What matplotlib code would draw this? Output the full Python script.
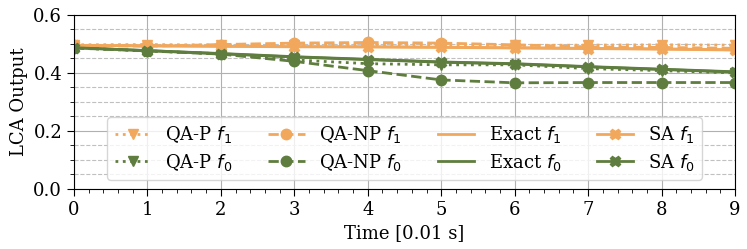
import matplotlib

matplotlib.use("Agg")
import matplotlib.pyplot as plt
from matplotlib.ticker import MultipleLocator

plt.rcParams["font.family"] = "DejaVu Serif"
plt.rcParams["mathtext.fontset"] = "dejavusans"
plt.rcParams["font.size"] = 13

time = list(range(10))

qa_p_f1 = [0.497, 0.498, 0.496, 0.497, 0.497, 0.497, 0.495, 0.496, 0.497, 0.496]
qa_p_f0 = [0.486, 0.476, 0.466, 0.445, 0.432, 0.428, 0.428, 0.415, 0.408, 0.400]
qa_np_f1 = [0.495, 0.492, 0.498, 0.503, 0.505, 0.503, 0.497, 0.490, 0.488, 0.485]
qa_np_f0 = [0.486, 0.476, 0.465, 0.440, 0.408, 0.376, 0.366, 0.367, 0.367, 0.367]
exact_f1 = [0.495, 0.494, 0.492, 0.491, 0.490, 0.489, 0.487, 0.485, 0.483, 0.480]
exact_f0 = [0.487, 0.477, 0.467, 0.456, 0.447, 0.438, 0.432, 0.422, 0.413, 0.404]
sa_f1 = [0.495, 0.493, 0.492, 0.490, 0.490, 0.488, 0.486, 0.484, 0.482, 0.479]
sa_f0 = [0.487, 0.477, 0.466, 0.455, 0.446, 0.437, 0.431, 0.421, 0.412, 0.403]

orange = "#f2a85c"
green = "#5f7d3e"

fig, ax = plt.subplots(figsize=(7.47, 2.49), dpi=100)
fig.subplots_adjust(left=0.099, right=0.984, top=0.94, bottom=0.241)

lw, ms = 2, 7.5
ax.plot(time, qa_p_f1, ":", marker="v", color=orange, lw=lw, ms=ms, label=r"QA-P $f_1$")
ax.plot(time, qa_p_f0, ":", marker="v", color=green, lw=lw, ms=ms, label=r"QA-P $f_0$")
ax.plot(time, qa_np_f1, "--", marker="o", color=orange, lw=lw, ms=ms, label=r"QA-NP $f_1$")
ax.plot(time, qa_np_f0, "--", marker="o", color=green, lw=lw, ms=ms, label=r"QA-NP $f_0$")
ax.plot(time, exact_f1, "-", color=orange, lw=lw, label=r"Exact $f_1$")
ax.plot(time, exact_f0, "-", color=green, lw=lw, label=r"Exact $f_0$")
ax.plot(time, sa_f1, "-", marker="X", color=orange, lw=lw, ms=ms, label=r"SA $f_1$")
ax.plot(time, sa_f0, "-", marker="X", color=green, lw=lw, ms=ms, label=r"SA $f_0$")

ax.set_xlim(0, 9)
ax.set_ylim(0, 0.6)
ax.xaxis.set_major_locator(MultipleLocator(1))
ax.xaxis.set_minor_locator(MultipleLocator(0.2))
ax.yaxis.set_major_locator(MultipleLocator(0.2))
ax.yaxis.set_minor_locator(MultipleLocator(0.05))
ax.tick_params(which="major", length=5)
ax.tick_params(which="minor", length=3)
ax.grid(which="major", color="#b0b0b0", lw=0.8)
ax.grid(which="minor", axis="y", color="#c0c0c0", ls="--", lw=0.8)
ax.set_axisbelow(True)

ax.set_xlabel("Time [0.01 s]")
ax.set_ylabel("LCA Output")
ax.legend(loc="lower center", ncol=4, columnspacing=2.0, handlelength=2.0,
          labelspacing=0.35, borderaxespad=0.5)

fig.savefig("out.png", dpi=100)
